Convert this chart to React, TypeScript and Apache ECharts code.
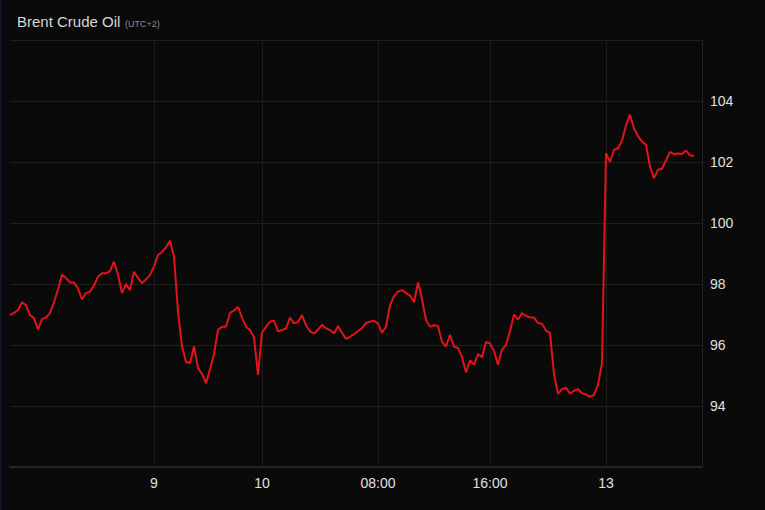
import React, { useEffect, useRef } from "react";
import * as echarts from "echarts";

// Time slots along the x axis (equal steps of trading time)
const slotCount = 174;
const tickSlots = [36, 63, 92, 120, 149];
const tickTexts = ["9", "10", "08:00", "16:00", "13"];

// Brent price (USD), one value per slot
const prices = [
  96.98, 97.05, 97.15, 97.4, 97.3, 96.98, 96.88, 96.51, 96.85, 96.9,
  97.05, 97.4, 97.82, 98.3, 98.2, 98.05, 98.05, 97.85, 97.5, 97.7,
  97.75, 97.95, 98.24, 98.35, 98.35, 98.42, 98.73, 98.3, 97.7, 98.0,
  97.8, 98.4, 98.2, 98.03, 98.15, 98.3, 98.57, 98.95, 99.05, 99.2,
  99.42, 98.9, 97.1, 95.95, 95.45, 95.4, 95.95, 95.25, 95.05, 94.75,
  95.2, 95.7, 96.5, 96.6, 96.6, 97.05, 97.13, 97.25, 96.9, 96.6,
  96.49, 96.25, 95.02, 96.4, 96.6, 96.76, 96.8, 96.45, 96.49, 96.55,
  96.9, 96.71, 96.75, 96.98, 96.65, 96.45, 96.38, 96.5, 96.66, 96.55,
  96.49, 96.38, 96.62, 96.4, 96.2, 96.27, 96.35, 96.46, 96.55, 96.72,
  96.76, 96.8, 96.7, 96.4, 96.6, 97.3, 97.6, 97.75, 97.8, 97.7,
  97.62, 97.4, 98.05, 97.5, 96.82, 96.6, 96.65, 96.62, 96.1, 95.95,
  96.33, 95.95, 95.9, 95.6, 95.1, 95.5, 95.35, 95.7, 95.6, 96.1,
  96.05, 95.8, 95.35, 95.85, 96.0, 96.45, 97.0, 96.83, 97.05, 96.95,
  96.9, 96.9, 96.72, 96.7, 96.47, 96.4, 95.05, 94.4, 94.55, 94.6,
  94.4, 94.5, 94.55, 94.42, 94.38, 94.3, 94.36, 94.7, 95.4, 102.29,
  102.0, 102.4, 102.45, 102.7, 103.2, 103.55, 103.1, 102.85, 102.67, 102.56,
  101.85, 101.47, 101.75, 101.78, 102.05, 102.33, 102.26, 102.28, 102.26, 102.38,
  102.22, 102.2,
];

// Price axis
const yMin = 92;
const yMax = 106;
const yStep = 2;

const categories = Array.from({ length: slotCount }, (_, i) => {
  const k = tickSlots.indexOf(i);
  return k >= 0 ? tickTexts[k] : "";
});

const FONT = "'Liberation Sans', Arial, Helvetica, sans-serif";

export default function App() {
  const ref = useRef<HTMLDivElement>(null);

  useEffect(() => {
    if (!ref.current) return;
    const chart = echarts.init(ref.current, null, { renderer: "svg" });
    const isTick = (_i: number, v: string) => v !== "";
    chart.setOption({
      animation: false,
      backgroundColor: "#0a0a0a",
      textStyle: { fontFamily: FONT },
      graphic: [
        {
          type: "rect",
          left: 0,
          top: 0,
          shape: { width: 2, height: 510 },
          style: { fill: "#0c1626" },
        },
        {
          type: "text",
          x: 17,
          y: 29,
          style: {
            text: "Brent Crude Oil",
            fill: "#d6d6d6",
            font: `15px ${FONT}`,
            verticalAlign: "bottom",
          },
        },
        {
          type: "text",
          x: 125,
          y: 28,
          style: {
            text: "(UTC+2)",
            fill: "#8c8c8c",
            font: `9px ${FONT}`,
            verticalAlign: "bottom",
          },
        },
      ],
      grid: { left: 10, right: 63, top: 40, bottom: 43, containLabel: false },
      xAxis: {
        type: "category",
        data: categories,
        boundaryGap: false,
        axisLine: { show: true, lineStyle: { color: "#2c2c2c", width: 1.5 } },
        axisTick: { show: false },
        axisLabel: {
          interval: isTick,
          color: "#e0e0e0",
          fontSize: 14,
          margin: 9,
          fontFamily: FONT,
        },
        splitLine: {
          show: true,
          interval: isTick,
          lineStyle: { color: "#1c1c1c", width: 1 },
        },
      },
      yAxis: {
        type: "value",
        position: "right",
        min: yMin,
        max: yMax,
        interval: yStep,
        axisLine: { show: true, lineStyle: { color: "#222222" } },
        axisTick: { show: false },
        axisLabel: {
          showMinLabel: false,
          showMaxLabel: false,
          color: "#e0e0e0",
          fontSize: 14,
          margin: 8,
          fontFamily: FONT,
        },
        splitLine: { show: true, lineStyle: { color: "#1f1f1f", width: 1 } },
      },
      series: [
        {
          type: "line",
          data: prices,
          showSymbol: false,
          symbol: "none",
          lineStyle: { color: "#e3121b", width: 2 },
          itemStyle: { color: "#e3121b" },
        },
      ],
    });
    return () => chart.dispose();
  }, []);

  return (
    <div
      ref={ref}
      style={{ position: "fixed", left: 0, top: 0, width: 765, height: 510 }}
    />
  );
}
